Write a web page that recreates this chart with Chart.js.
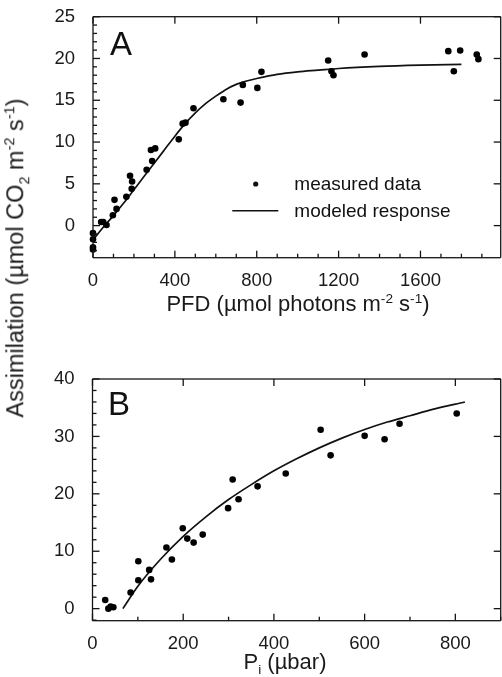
<!DOCTYPE html>
<html>
<head>
<meta charset="utf-8">
<script src="https://cdn.jsdelivr.net/npm/chart.js@4.4.1/dist/chart.umd.min.js"></script>
<style>
  html, body { margin: 0; padding: 0; background: #fff; }
  #wrap { position: relative; width: 502px; height: 677px; overflow: hidden;
          font-family: 'Liberation Sans', Arial, sans-serif; color: #1a1a1a; }
  canvas { position: absolute; left: 0; }
  #chartA { top: 0; }
  #chartB { top: 330px; }
  .title { position: absolute; white-space: nowrap; font-size: 22px; line-height: 22px; }
  .title sup, .title sub { font-size: 0.62em; line-height: 0; }
  #xTitleA { left: 298px; top: 293px; transform: translateX(-50%); }
  #xTitleB { left: 285px; top: 651px; transform: translateX(-50%); }
  #yTitle { left: 16px; top: 258px; font-size: 23.5px; line-height: 23.5px;
            transform: translate(-50%, -50%) rotate(-90deg); }
</style>
</head>
<body>
<div id="wrap">
  <canvas id="chartA" width="504" height="300"></canvas>
  <canvas id="chartB" width="504" height="335"></canvas>
  <div class="title" id="xTitleA">PFD (µmol photons m<sup>-2</sup> s<sup>-1</sup>)</div>
  <div class="title" id="xTitleB">P<sub>i</sub> (µbar)</div>
  <div class="title" id="yTitle">Assimilation (µmol CO<sub>2</sub> m<sup>-2</sup> s<sup>-1</sup>)</div>
</div>
<script>
// panel A: light response
const aPfd = [0, 0, 0, 0, 40, 50, 66, 97, 105, 115, 163, 181, 191, 189, 262, 289, 283, 304,
  419, 438, 452, 491, 637, 721, 732, 803, 823, 1149, 1165, 1175, 1327, 1736, 1763, 1794, 1875, 1883];
const aAssim = [-0.9, -1.64, -2.6, -2.85, 0.44, 0.44, 0.08, 1.24, 3.08, 2.0, 3.44, 5.96, 5.28, 4.4,
  6.68, 7.72, 9.04, 9.24, 10.32, 12.2, 12.32, 14.04, 15.12, 14.72, 16.84, 16.48, 18.4, 19.76,
  18.48, 18.0, 20.48, 20.88, 18.48, 20.96, 20.48, 19.92];
const aModelPfd = [0, 50, 100, 150, 200, 250, 300, 350, 400, 450, 500, 550, 600, 650, 700, 750,
  800, 900, 1000, 1100, 1200, 1400, 1600, 1800];
const aModelAssim = [-1.7, -0.2, 1.2, 2.7, 4.3, 5.9, 7.5, 9.1, 10.7, 12.2, 13.5, 14.6, 15.5,
  16.3, 16.9, 17.3, 17.6, 18.1, 18.4, 18.6, 18.8, 19.05, 19.2, 19.3];
const aXTicks = [0, 400, 800, 1200, 1600];
const aYTicks = [0, 5, 10, 15, 20, 25];

// panel B: CO2 response
const bPi = [28, 35, 40, 46, 84, 101, 101, 125, 129, 163, 175, 199, 209, 223, 243, 299, 309, 322,
  364, 426, 503, 525, 600, 644, 677, 803];
const bAssim = [1.5, 0, 0.35, 0.25, 2.8, 8.25, 4.95, 6.75, 5.1, 10.65, 8.55, 14.0, 12.2, 11.5,
  12.9, 17.5, 22.5, 19.05, 21.3, 23.55, 31.15, 26.7, 30.1, 29.5, 32.2, 34.0];
const bModelPi = [67, 100, 150, 200, 250, 300, 350, 400, 450, 500, 550, 600, 650, 700, 750, 821];
const bModelAssim = [0, 3.9, 8.6, 12.6, 16.0, 19.0, 21.6, 24.0, 26.1, 28.0, 29.7, 31.2, 32.5,
  33.6, 34.7, 36.0];
const bXTicks = [0, 200, 400, 600, 800];
const bYTicks = [0, 10, 20, 30, 40];

const FONT = "'Liberation Sans', Arial, sans-serif";
Chart.defaults.font.family = FONT;
Chart.defaults.color = '#1a1a1a';
Chart.defaults.animation = false;

// frame with inward ticks, panel letter and legend, drawn with the chart's own scales
function framePlugin(cfg) {
  return {
    id: 'frame' + cfg.letter,
    afterDraw(chart) {
      const { ctx, chartArea: a } = chart;
      const xs = chart.scales.x, ys = chart.scales.y;
      ctx.save();
      ctx.fillStyle = '#151515';
      const w = 1.3;
      const hline = (x1, x2, y) => ctx.fillRect(Math.min(x1, x2), y - w / 2, Math.abs(x2 - x1), w);
      const vline = (x, y1, y2) => ctx.fillRect(x - w / 2, Math.min(y1, y2), w, Math.abs(y2 - y1));
      hline(a.left, a.right, a.top);
      hline(a.left, a.right, a.bottom);
      vline(a.left, a.top, a.bottom);
      vline(a.right, a.top, a.bottom);
      cfg.xTicks.forEach(v => {
        const px = xs.getPixelForValue(v);
        vline(px, a.bottom, a.bottom - 7);
        vline(px, a.top, a.top + 7);
      });
      cfg.yTicks.forEach(v => {
        const py = ys.getPixelForValue(v);
        hline(a.left, a.left + 7, py);
        hline(a.right - 7, a.right, py);
      });
      for (let v = Math.ceil(cfg.xMin / cfg.xMinor) * cfg.xMinor; v <= cfg.xMax; v += cfg.xMinor) {
        if (cfg.xTicks.includes(v)) continue;
        vline(xs.getPixelForValue(v), a.bottom, a.bottom - 4);
      }
      for (let v = Math.ceil(cfg.yMin / cfg.yMinor) * cfg.yMinor; v <= cfg.yMax; v += cfg.yMinor) {
        if (cfg.yTicks.includes(v)) continue;
        hline(a.left, a.left + 4, ys.getPixelForValue(v));
      }

      ctx.fillStyle = '#111';
      ctx.textBaseline = 'alphabetic';
      ctx.font = '33px ' + FONT;
      ctx.fillText(cfg.letter, cfg.letterX, cfg.letterY);
      const L = cfg.legend;
      if (L) {
        ctx.beginPath();
        ctx.arc(L.dotX, L.dotY, 2.6, 0, Math.PI * 2);
        ctx.fill();
        ctx.strokeStyle = '#111';
        ctx.lineWidth = 1.6;
        ctx.beginPath();
        ctx.moveTo(L.lineX1, L.lineY);
        ctx.lineTo(L.lineX2, L.lineY);
        ctx.stroke();
        ctx.font = '19px ' + FONT;
        ctx.fillText(L.labels[0], L.textX, L.base1);
        ctx.fillText(L.labels[1], L.textX, L.base2);
      }
      ctx.restore();
    }
  };
}

function makeChart(id, cfg) {
  const pts = cfg.px.map((v, i) => ({ x: v, y: cfg.py[i] }));
  const line = cfg.mx.map((v, i) => ({ x: v, y: cfg.my[i] }));
  return new Chart(document.getElementById(id), {
    type: 'scatter',
    data: {
      datasets: [
        { label: 'measured data', data: pts, pointRadius: 3.3, pointHoverRadius: 3.3,
          backgroundColor: '#000', borderWidth: 0, clip: false },
        { label: 'modeled response', type: 'line', data: line, showLine: true,
          borderColor: '#111', borderWidth: 1.7, pointRadius: 0, fill: false,
          cubicInterpolationMode: 'monotone', clip: false }
      ]
    },
    options: {
      responsive: false,
      layout: { padding: { top: cfg.top, right: -2, bottom: 0, left: 0 } },
      plugins: { legend: { display: false }, tooltip: { enabled: false } },
      scales: {
        x: {
          type: 'linear', min: cfg.xMin, max: cfg.xMax,
          grid: { display: false }, border: { display: false },
          afterBuildTicks: s => { s.ticks = cfg.xTicks.map(v => ({ value: v })); },
          afterFit: s => { s.height = cfg.xAxisH; s.paddingLeft = 0; s.paddingRight = 0; },
          ticks: { font: { size: 18.5 }, padding: 4, maxRotation: 0, callback: v => String(v) }
        },
        y: {
          type: 'linear', min: cfg.yMin, max: cfg.yMax,
          grid: { display: false }, border: { display: false },
          afterBuildTicks: s => { s.ticks = cfg.yTicks.map(v => ({ value: v })); },
          afterFit: s => { s.width = cfg.yAxisW; s.paddingTop = 0; s.paddingBottom = 0; },
          ticks: { font: { size: 18.5 }, padding: 10, callback: v => String(v) }
        }
      }
    },
    plugins: [framePlugin(cfg)]
  });
}

makeChart('chartA', {
  px: aPfd, py: aAssim, mx: aModelPfd, my: aModelAssim,
  xTicks: aXTicks, yTicks: aYTicks, xMinor: 100, yMinor: 1,
  xMin: 0, xMax: 1992, yMin: -3.84, yMax: 25,
  top: 16.7, xAxisH: 42.3, yAxisW: 93,
  letter: 'A', letterX: 110, letterY: 55,
  legend: { dotX: 255.7, dotY: 184, lineX1: 232.3, lineX2: 278.3, lineY: 210.7,
            textX: 294.3, base1: 190, base2: 216.7,
            labels: ['measured data', 'modeled response'] }
});

makeChart('chartB', {
  px: bPi, py: bAssim, mx: bModelPi, my: bModelAssim,
  xTicks: bXTicks, yTicks: bYTicks, xMinor: 100, yMinor: 2,
  xMin: 0, xMax: 900, yMin: -2.1, yMax: 40,
  top: 49, xAxisH: 44.3, yAxisW: 92.5,
  letter: 'B', letterX: 108, letterY: 85,
  legend: null
});
</script>
</body>
</html>
